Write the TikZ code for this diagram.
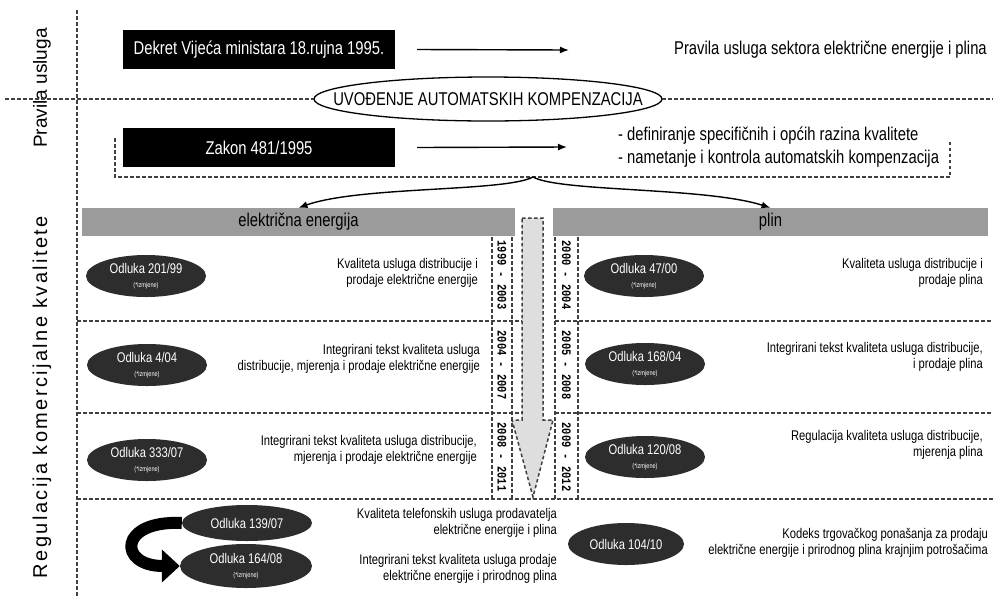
\documentclass[tikz,border=0pt]{standalone}
\usepackage{fontspec}
\setmainfont[FakeStretch=0.8]{Liberation Sans}
\newfontfamily\bocni{Liberation Sans}
\newfontfamily\bocnidugi[LetterSpace=12]{Liberation Sans}
\newfontfamily\godine[FakeStretch=0.8]{Liberation Mono}
\usetikzlibrary{arrows.meta,shapes.geometric,positioning}
\definecolor{sivatraka}{RGB}{155,155,155}
\definecolor{tamna}{RGB}{45,45,45}
\definecolor{svijetla}{RGB}{222,222,222}
\newcommand{\veliki}{\fontsize{18.5}{23}\selectfont}
\newcommand{\mali}{\fontsize{14}{16}\selectfont}
\newcommand{\izmj}{\\[-2pt]{\fontsize{7}{7}\selectfont(*izmjene)}}
\tikzset{
  crna/.style={fill=black,text=white,minimum width=272pt,minimum height=39pt,inner sep=0pt,font=\veliki},
  odluka/.style={ellipse,fill=tamna,text=white,minimum width=120pt,minimum height=42pt,inner sep=0pt,align=center,font=\mali},
  opis/.style={anchor=east,align=right,inner sep=0pt,font=\mali},
  pojas/.style={fill=sivatraka,inner sep=0pt,minimum height=28pt,font=\veliki},
  godina/.style={rotate=-90,font=\godine\bfseries\fontsize{13}{13}\selectfont},
  crtkano/.style={draw=black!75,line width=1.5pt,dash pattern=on 3.5pt off 2.5pt},
  strelica/.style={-{Latex[length=9pt,width=7pt]},line width=1.4pt},
}
\begin{document}
\begin{tikzpicture}[x=1pt,y=-1pt]
        \fill[white] (0,0) rectangle (993,598);
        \useasboundingbox (0,0) rectangle (993,598);
        % Lijevi stupac
        \node (pu) at (42,88) [rotate=90,font=\bocni\fontsize{19}{19}\selectfont] {Pravila usluga};
        \node (rk) at (42,397) [rotate=90,font=\bocnidugi\fontsize{20}{20}\selectfont] {Regulacija komercijalne kvalitete};
        \draw[crtkano] (77,10) -- (77,598);
        % Pravila usluga
        \node (dekret) at (259,49.5) [crna] {Dekret Vijeća ministara 18.rujna 1995.};
        \node (pravila) at (987,50) [anchor=east,inner sep=0pt,font=\veliki] {Pravila usluga sektora električne energije i plina};
        \draw[strelica] ([xshift=22pt]dekret.east) -- ([xshift=-105pt]pravila.west);
        \node (uvod) at (488,99) [inner sep=0pt,font=\veliki] {UVOĐENJE AUTOMATSKIH KOMPENZACIJA};
        \draw[line width=1.3pt] (uvod.center) ellipse [x radius=174pt, y radius=22pt];
        \draw[crtkano] (5,99) -- ([xshift=-174pt]uvod.center);
        \draw[crtkano] ([xshift=174pt]uvod.center) -- (993,99);
        \node (zakon) at (259,147.5) [crna] {Zakon 481/1995};
        \node (mjere) at (618,147) [anchor=west,align=left,inner sep=0pt,font=\veliki] {- definiranje specifičnih i općih razina kvalitete\\- nametanje i kontrola automatskih kompenzacija};
        \draw[strelica] ([xshift=22pt]zakon.east) -- ([xshift=-51pt]mjere.west);
        \draw[crtkano] (115,138) |- (950,177) -- (950,140);
        \coordinate (rasp) at (533,177);
        % Sektori
        \node (struja) at (298.5,222) [pojas,minimum width=433pt] {električna energija};
        \node (plin) at (770.5,222) [pojas,minimum width=435pt] {plin};
        \draw[strelica] (rasp) .. controls (505,192) and (360,186) .. (struja.north);
        \draw[strelica] (rasp) .. controls (560,192) and (705,187) .. (plin.north);
        % Razdjelnice i razdoblja
        \foreach \x in {492,512,555,578} \draw[crtkano] (\x,237) -- (\x,499);
        \foreach \y in {321,413} {
          \draw[crtkano] (77,\y) -- (522,\y);
          \draw[crtkano] (555,\y) -- (993,\y);
        }
        \draw[crtkano] (77,499) -- (993,499);
        \draw[crtkano,fill=svijetla] (522,218) -- (543,218) -- (543,420) -- (553,420) -- (533,497) -- (512,420) -- (522,420) -- cycle;
        \node (g1) at (502,275) [godina] {1999 - 2003};
        \node (g2) at (502,365) [godina] {2004 - 2007};
        \node (g3) at (502,457) [godina] {2008 - 2011};
        \node (g4) at (566.5,275) [godina] {2000 - 2004};
        \node (g5) at (566.5,365) [godina] {2005 - 2008};
        \node (g6) at (566.5,457) [godina] {2009 - 2012};
        % Odluke - elektricna energija
        \node (e201) at (146,276) [odluka] {Odluka 201/99\izmj};
        \node (o201) at (478,272.5) [opis] {Kvaliteta usluga distribucije i\\prodaje električne energije};
        \node (e404) at (147,365) [odluka] {Odluka 4/04\izmj};
        \node (o404) at (480,358.5) [opis] {Integrirani tekst kvaliteta usluga\\distribucije, mjerenja i prodaje električne energije};
        \node (e333) at (147,460) [odluka] {Odluka 333/07\izmj};
        \node (o333) at (477,450) [opis] {Integrirani tekst kvaliteta usluga distribucije,\\mjerenja i prodaje električne energije};
        % Odluke - plin
        \node (e47) at (644,276) [odluka] {Odluka 47/00\izmj};
        \node (o47) at (983,272.5) [opis] {Kvaliteta usluga distribucije i\\prodaje plina};
        \node (e168) at (645,364) [odluka] {Odluka 168/04\izmj};
        \node (o168) at (983,356.5) [opis] {Integrirani tekst kvaliteta usluga distribucije,\\i prodaje plina};
        \node (e120) at (645,457) [odluka] {Odluka 120/08\izmj};
        \node (o120) at (983,444.5) [opis] {Regulacija kvaliteta usluga distribucije,\\mjerenja plina};
        % Zajednicke odluke
        \node (e139) at (247,523) [odluka,minimum width=130pt,minimum height=36pt] {Odluka 139/07};
        \node (o139) at (557,522.5) [opis] {Kvaliteta telefonskih usluga prodavatelja\\električne energije i plina};
        \node (e164) at (246,566) [odluka,minimum width=132pt,minimum height=44pt] {Odluka 164/08\izmj};
        \node (o164) at (557,569) [opis] {Integrirani tekst kvaliteta usluga prodaje\\električne energije i prirodnog plina};
        \draw[line width=12pt,-{Triangle[length=18pt,width=32pt]}] (e139.west) .. controls (118,520) and (118,566) .. (e164.west);
        \node (e104) at (626,544) [odluka,minimum width=116pt,minimum height=42pt] {Odluka 104/10};
        \node (o104) at (988,542.5) [opis] {Kodeks trgovačkog ponašanja za prodaju\\električne energije i prirodnog plina krajnjim potrošačima};
\end{tikzpicture}
\end{document}
